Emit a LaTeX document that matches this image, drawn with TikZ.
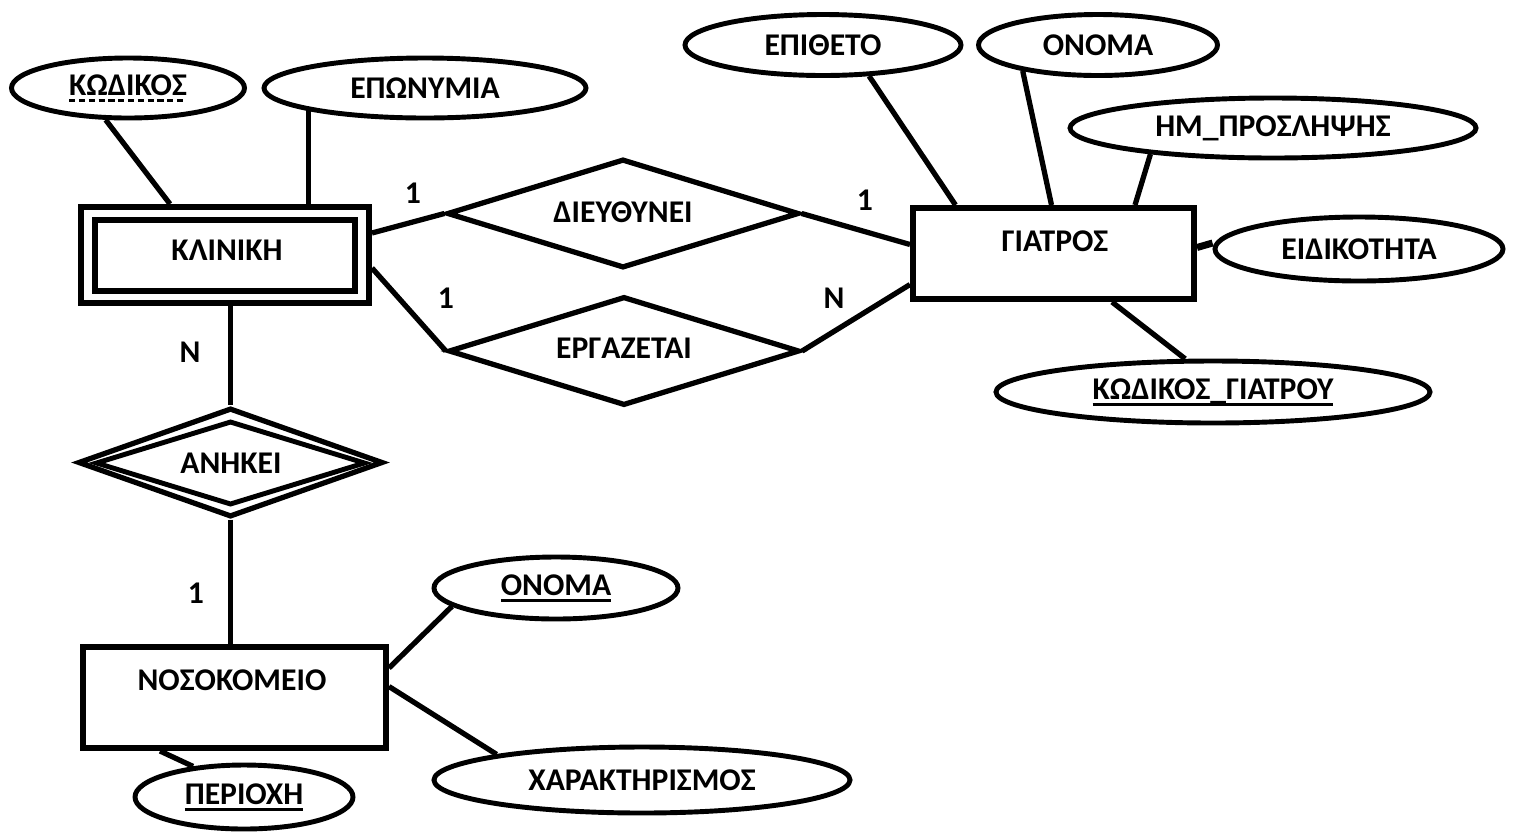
\documentclass[tikz,border=0pt]{standalone}
\usepackage{fontspec}
\setmainfont{Carlito}
\usetikzlibrary{shapes.geometric,calc}
\newcommand\myul[1]{\setbox0\hbox{#1}\rlap{\rule[-3.8pt]{\wd0}{1.4pt}}\box0}
\newcommand\mydul[1]{\setbox0\hbox{#1}\rlap{\hbox to \wd0{\xleaders\hbox{\rule[-3.8pt]{3.5pt}{1.4pt}\hspace{2pt}}\hfill}}\box0}
\begin{document}
\begin{tikzpicture}[x=0.02cm,y=-0.02cm,
  every node/.style={font=\fontsize{18}{21}\selectfont\bfseries},
  ent/.style={draw,rectangle,line width=3.4pt,inner sep=0pt},
  attr/.style={draw,ellipse,line width=2.8pt,inner sep=0pt},
  rel/.style={draw,diamond,line width=3pt,inner sep=0pt},
  lbl/.style={inner sep=0pt},
  conn/.style={line width=3pt}]
\useasboundingbox[fill=white] (0,0) rectangle (1518,833);
% KLINIKH
\node[ent,minimum width={288*0.02cm},minimum height={96*0.02cm}] (klin) at (225,255) {};
\node[ent,line width=3pt,minimum width={260*0.02cm},minimum height={71*0.02cm}] (klinin) at (225,255.5) {};
\node[lbl] (klint) at (227,250) {ΚΛΙΝΙΚΗ};
% attributes of KLINIKH
\node[attr,minimum width={233*0.02cm},minimum height={60*0.02cm}] (kod) at (128,88) {\mydul{ΚΩΔΙΚΟΣ}};
\node[attr,minimum width={322*0.02cm},minimum height={60*0.02cm}] (epo) at (425,88) {ΕΠΩΝΥΜΙΑ};
% relationships
\node[rel,minimum width={352*0.02cm},minimum height={109*0.02cm}] (dieu) at (623,213.5) {};
\node[lbl] at (623,212) {ΔΙΕΥΘΥΝΕΙ};
\node[rel,minimum width={351*0.02cm},minimum height={109*0.02cm}] (erg) at (624,351) {};
\node[lbl] at (624,348) {ΕΡΓΑΖΕΤΑΙ};
% GIATROS
\node[ent,minimum width={281*0.02cm},minimum height={91*0.02cm}] (gia) at (1053.5,253.5) {};
\node[lbl] at (1055,241) {ΓΙΑΤΡΟΣ};
\node[attr,minimum width={276*0.02cm},minimum height={61*0.02cm}] (epith) at (823,45) {ΕΠΙΘΕΤΟ};
\node[attr,minimum width={239*0.02cm},minimum height={61*0.02cm}] (onoma) at (1098,45) {ΟΝΟΜΑ};
\node[attr,minimum width={406*0.02cm},minimum height={60*0.02cm}] (hm) at (1273,128) {ΗΜ\_ΠΡΟΣΛΗΨΗΣ};
\node[attr,minimum width={288*0.02cm},minimum height={64*0.02cm}] (eidik) at (1359,249) {ΕΙΔΙΚΟΤΗΤΑ};
\node[attr,minimum width={434*0.02cm},minimum height={62*0.02cm}] (kodg) at (1213,392) {\myul{ΚΩΔΙΚΟΣ\_ΓΙΑΤΡΟΥ}};
% ANHKEI
\node[rel,minimum width={305*0.02cm},minimum height={109*0.02cm}] (anik) at (230.5,462.5) {};
\node[rel,line width=2.8pt,minimum width={270*0.02cm},minimum height={84*0.02cm}] (anikin) at (230.5,463) {};
\node[lbl] at (231,463) {ΑΝΗΚΕΙ};
% NOSOKOMEIO
\node[ent,minimum width={303*0.02cm},minimum height={101*0.02cm}] (noso) at (234.5,697.5) {};
\node[lbl] at (232,680) {ΝΟΣΟΚΟΜΕΙΟ};
\node[attr,minimum width={244*0.02cm},minimum height={62*0.02cm}] (onoma2) at (556,588) {\myul{ΟΝΟΜΑ}};
\node[attr,minimum width={416*0.02cm},minimum height={66*0.02cm}] (xar) at (642,780) {ΧΑΡΑΚΤΗΡΙΣΜΟΣ};
\node[attr,minimum width={218*0.02cm},minimum height={64*0.02cm}] (per) at (244,797) {\myul{ΠΕΡΙΟΧΗ}};
% connectors
\draw[conn] (kod.235) -- ($(klin.north)+(-55,0)$);
\draw[conn] (epo.191) -- (epo.191 |- klin.north);
\draw[conn] ($(klin.east)+(0,-22)$) -- (dieu.west);
\draw[conn] ($(klin.east)+(0,13)$) -- (erg.west);
\draw[conn] (dieu.east) -- ($(gia.west)+(0,-9)$);
\draw[conn] (erg.east) -- ($(gia.west)+(0,31)$);
\draw[conn] (epith.326.7) -- ($(gia.north)+(-98,0)$);
\draw[conn] (onoma.199.4) -- ($(gia.north)+(-2,0)$);
\draw[conn] (hm.192.1) -- ($(gia.north)+(81.5,0)$);
\draw[conn,line width=4pt] ($(gia.east)+(0,-6)$) -- ($(eidik.west)+(0,-6)$);
\draw[conn] (kodg.130.2) -- ($(gia.south)+(58.5,0)$);
\draw[conn] (anik.north |- klin.south) -- (anik.north);
\draw[conn] (anik.south) -- (anik.south |- noso.north);
\draw[conn] (onoma2.190.4) -- ($(noso.east)+(0,-29.5)$);
\draw[conn] (xar.170.4) -- ($(noso.east)+(0,-11)$);
\draw[conn] (per.149.7) -- ($(noso.south)+(-74.5,0)$);
% cardinalities
\node[lbl] (c1) at (413,193) {1};
\node[lbl] (c2) at (446,298) {1};
\node[lbl] (c3) at (865,200) {1};
\node[lbl] (c4) at (834,298) {N};
\node[lbl] (c5) at (190,352) {N};
\node[lbl] (c6) at (196,593) {1};
\end{tikzpicture}
\end{document}
